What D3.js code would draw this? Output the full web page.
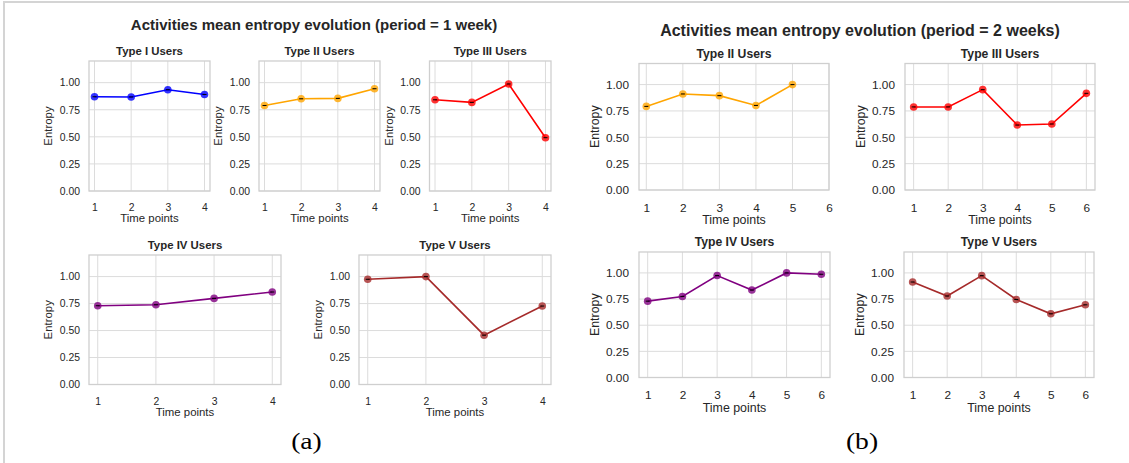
<!DOCTYPE html>
<html>
<head>
<meta charset="utf-8">
<script src="https://cdn.jsdelivr.net/npm/d3@7"></script>
<style>
  html, body { margin: 0; padding: 0; background: #ffffff; }
  svg { display: block; }
</style>
</head>
<body>
<svg id="chart" width="1129" height="463"></svg>
<script>
// ---- data ----------------------------------------------------------------
const weekPoints   = [1, 2, 3, 4];
const biweekPoints = [1, 2, 3, 4, 5, 6];
const yTicks       = [0, 0.25, 0.5, 0.75, 1.0];

// period = 1 week
const weekTypeI   = [0.870, 0.868, 0.935, 0.891];
const weekTypeII  = [0.789, 0.851, 0.855, 0.944];
const weekTypeIII = [0.842, 0.818, 0.988, 0.492];
const weekTypeIV  = [0.730, 0.739, 0.798, 0.857];
const weekTypeV   = [0.975, 1.000, 0.457, 0.727];

// period = 2 weeks
const biweekTypeII  = [0.793, 0.911, 0.895, 0.802, 1.000];
const biweekTypeIII = [0.788, 0.788, 0.952, 0.616, 0.626, 0.917];
const biweekTypeIV  = [0.730, 0.775, 0.975, 0.836, 1.000, 0.987];
const biweekTypeV   = [0.913, 0.779, 0.974, 0.746, 0.609, 0.695];

const titles = {
  week:   "Activities mean entropy evolution (period = 1 week)",
  biweek: "Activities mean entropy evolution (period = 2 weeks)"
};

// ---- drawing ---------------------------------------------------------------
const svg = d3.select("#chart");
const SANS = "'Liberation Sans', Arial, sans-serif";
const SERIF = "'Liberation Serif', 'Times New Roman', serif";
const TEXT = "#262626";
const GRID = "#dcdcdc";
const SPINE = "#cfcfcf";

// page frame (left and top rules)
svg.append("line").attr("x1", 4).attr("x2", 4).attr("y1", 1).attr("y2", 463)
  .attr("stroke", "#d4d4d4").attr("stroke-width", 2);
svg.append("line").attr("x1", 3).attr("x2", 1129).attr("y1", 2).attr("y2", 2)
  .attr("stroke", "#d4d4d4").attr("stroke-width", 2);

function panel(opt) {
  const { left, right, top, bottom, xDomain, xTickVals, xs, ys, color, title, fs } = opt;
  const g = svg.append("g");
  const x = d3.scaleLinear().domain(xDomain).range([left, right]);
  const y = d3.scaleLinear().domain([0, 1.2]).range([bottom, top]);

  // grid
  g.selectAll(".gx").data(xTickVals).join("line")
    .attr("x1", d => x(d)).attr("x2", d => x(d))
    .attr("y1", top).attr("y2", bottom)
    .attr("stroke", GRID).attr("stroke-width", 1);
  g.selectAll(".gy").data(yTicks).join("line")
    .attr("x1", left).attr("x2", right)
    .attr("y1", d => y(d)).attr("y2", d => y(d))
    .attr("stroke", GRID).attr("stroke-width", 1);

  // frame
  g.append("rect").attr("x", left).attr("y", top)
    .attr("width", right - left).attr("height", bottom - top)
    .attr("fill", "none").attr("stroke", SPINE).attr("stroke-width", 1.3);

  // axes (labels only, whitegrid style has no tick marks)
  const xAxis = d3.axisBottom(x).tickValues(xTickVals).tickSize(0).tickPadding(fs.tickPad)
    .tickFormat(d3.format("d"));
  const yAxis = d3.axisLeft(y).tickValues(yTicks).tickSize(0).tickPadding(fs.tickPadY)
    .tickFormat(d3.format(".2f"));
  const gx = g.append("g").attr("transform", `translate(0,${bottom})`).call(xAxis);
  const gy = g.append("g").attr("transform", `translate(${left},0)`).call(yAxis);
  [gx, gy].forEach(a => {
    a.select(".domain").remove();
    a.selectAll("text").attr("font-family", SANS).attr("font-size", fs.tick).attr("fill", TEXT);
  });

  // axis labels
  g.append("text").attr("x", (left + right) / 2).attr("y", bottom + fs.xLabelOff)
    .attr("text-anchor", "middle").attr("font-family", SANS).attr("font-size", fs.label)
    .attr("fill", TEXT).text("Time points");
  g.append("text")
    .attr("transform", `translate(${left - fs.yLabelOff},${(top + bottom) / 2}) rotate(-90)`)
    .attr("text-anchor", "middle").attr("font-family", SANS).attr("font-size", fs.label)
    .attr("fill", TEXT).text("Entropy");

  // subplot title
  g.append("text").attr("x", (left + right) / 2).attr("y", top - fs.titleOff)
    .attr("text-anchor", "middle").attr("font-family", SANS).attr("font-size", fs.title)
    .attr("font-weight", "bold").attr("fill", TEXT).text(title);

  // series
  const pts = ys.map((v, i) => [xs[i], v]);
  const line = d3.line().x(d => x(d[0])).y(d => y(d[1]));
  g.append("path").datum(pts).attr("d", line)
    .attr("fill", "none").attr("stroke", color).attr("stroke-width", 1.6);
  g.selectAll(".pt").data(pts).join("circle")
    .attr("cx", d => x(d[0])).attr("cy", d => y(d[1])).attr("r", 3.8)
    .attr("fill", color).attr("fill-opacity", 0.8);
  g.selectAll(".cap").data(pts).join("line")
    .attr("x1", d => x(d[0]) - 2).attr("x2", d => x(d[0]) + 2)
    .attr("y1", d => y(d[1])).attr("y2", d => y(d[1]))
    .attr("stroke", "#000").attr("stroke-width", 1);
}

function caption(cx, label) {
  svg.append("text")
    .attr("transform", `translate(${cx},449) scale(1.2,1)`)
    .attr("text-anchor", "middle").attr("font-family", SERIF).attr("font-size", 23)
    .attr("fill", "#000").text(label);
}

const smallFs = { tick: 10.4, label: 11.4, title: 11.4, tickPad: 13, tickPadY: 9, xLabelOff: 31, yLabelOff: 37, titleOff: 6 };
const largeFs = { tick: 11.8, label: 12.4, title: 12.2, tickPad: 13.5, tickPadY: 10, xLabelOff: 34, yLabelOff: 40, titleOff: 6 };

// ---- period = 1 week -------------------------------------------------------
const wDom = [0.85, 4.15];
panel({ left: 89, right: 210, top: 61, bottom: 191, xDomain: wDom, xTickVals: weekPoints,
        xs: weekPoints, ys: weekTypeI, color: "blue", title: "Type I Users", fs: smallFs });
panel({ left: 259, right: 380, top: 61, bottom: 191, xDomain: wDom, xTickVals: weekPoints,
        xs: weekPoints, ys: weekTypeII, color: "orange", title: "Type II Users", fs: smallFs });
panel({ left: 429.5, right: 551, top: 61, bottom: 191, xDomain: wDom, xTickVals: weekPoints,
        xs: weekPoints, ys: weekTypeIII, color: "red", title: "Type III Users", fs: smallFs });
panel({ left: 89, right: 281, top: 255, bottom: 384.5, xDomain: wDom, xTickVals: weekPoints,
        xs: weekPoints, ys: weekTypeIV, color: "purple", title: "Type IV Users", fs: smallFs });
panel({ left: 359, right: 551, top: 255, bottom: 384.5, xDomain: wDom, xTickVals: weekPoints,
        xs: weekPoints, ys: weekTypeV, color: "brown", title: "Type V Users", fs: smallFs });

svg.append("text").attr("x", 314).attr("y", 30).attr("text-anchor", "middle")
  .attr("font-family", SANS).attr("font-size", 15).attr("font-weight", "bold")
  .attr("fill", TEXT).text(titles.week);
caption(306.5, "(a)");

// ---- period = 2 weeks ------------------------------------------------------
const bDom = [0.75, 6.25];
panel({ left: 639, right: 829, top: 63.5, bottom: 190, xDomain: [0.8, 6], xTickVals: biweekPoints,
        xs: biweekPoints.slice(0, biweekTypeII.length), ys: biweekTypeII, color: "orange",
        title: "Type II Users", fs: largeFs });
panel({ left: 905, right: 1095, top: 63.5, bottom: 190, xDomain: bDom, xTickVals: biweekPoints,
        xs: biweekPoints, ys: biweekTypeIII, color: "red", title: "Type III Users", fs: largeFs });
panel({ left: 639, right: 830, top: 252, bottom: 377.5, xDomain: bDom, xTickVals: biweekPoints,
        xs: biweekPoints, ys: biweekTypeIV, color: "purple", title: "Type IV Users", fs: largeFs });
panel({ left: 904, right: 1094, top: 252, bottom: 377.5, xDomain: bDom, xTickVals: biweekPoints,
        xs: biweekPoints, ys: biweekTypeV, color: "brown", title: "Type V Users", fs: largeFs });

svg.append("text").attr("x", 860).attr("y", 36).attr("text-anchor", "middle")
  .attr("font-family", SANS).attr("font-size", 16).attr("font-weight", "bold")
  .attr("fill", TEXT).text(titles.biweek);
caption(862, "(b)");
</script>
</body>
</html>
